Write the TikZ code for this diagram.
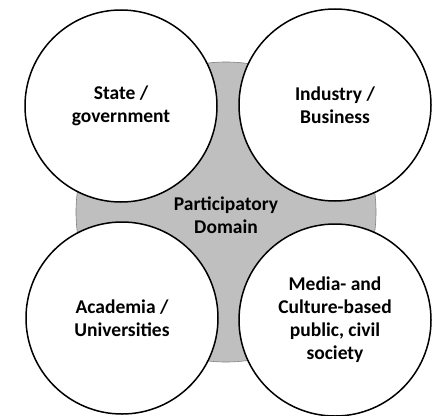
\documentclass[tikz,border=0pt]{standalone}
\usepackage{fontspec}
\setmainfont{Carlito}
\newcommand{\shadingdomain}{gray!50}
\tikzset{every path/.style={line width=1.5 pt},
  sector/.style={circle, draw, fill=white, minimum size=192pt, inner sep=0pt, align=center,
    font=\bfseries\fontsize{19.5}{23}\selectfont}}

\begin{document}
\begin{tikzpicture}[x=1pt,y=-1pt]
\useasboundingbox (0,0) rectangle (435,415);
% shared domain behind the four sectors
\node[circle, fill=\shadingdomain, draw=gray, line width=.6pt, minimum size=300pt] (domain) at (226,212) {};
\node[sector] (state) at (121,106) {State /\\government};
\node[sector] (industry) at (335,105) {Industry /\\Business};
\node[sector] (academia) at (122,318) {Academia /\\Universities};
\node[sector] (media) at (335,320) {Media- and\\Culture-based\\public, civil\\society};
\node[align=center, font=\bfseries\fontsize{19.5}{23}\selectfont] (label) at (226,215) {Participatory\\Domain};
\end{tikzpicture}
\end{document}
